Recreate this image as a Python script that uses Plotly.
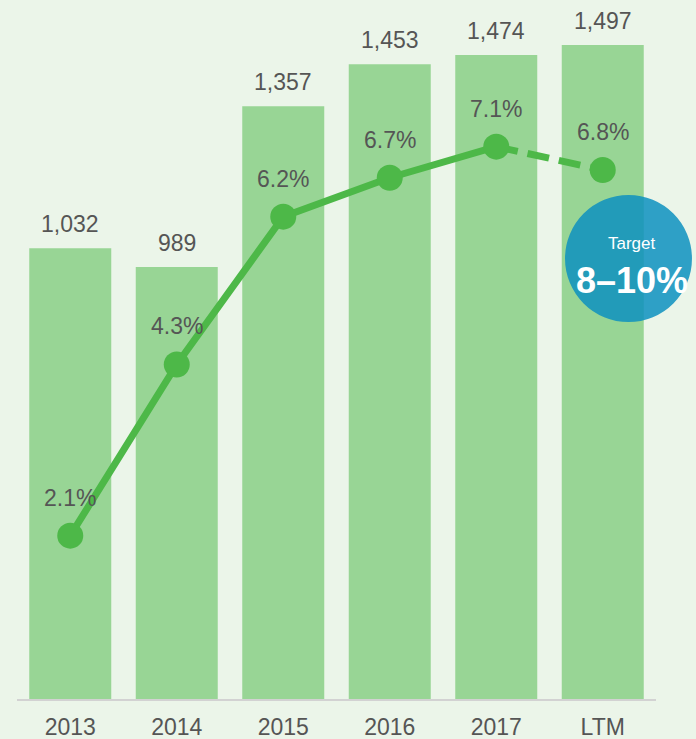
import plotly.graph_objects as go

# Revenue (bars) and margin (line) by period
categories = ["2013", "2014", "2015", "2016", "2017", "LTM"]
revenue = [1032, 989, 1357, 1453, 1474, 1497]
revenue_labels = ["1,032", "989", "1,357", "1,453", "1,474", "1,497"]
margin_pct = [2.1, 4.3, 6.2, 6.7, 7.1, 6.8]
margin_labels = ["2.1%", "4.3%", "6.2%", "6.7%", "7.1%", "6.8%"]
target_title = "Target"
target_value = "8–10%"

FONT = "Liberation Sans, Arial, sans-serif"
BG = "#EBF5E9"
BAR = "#98D595"
LINE = "#4DB848"
TEXT = "#555555"

# Solid segment through the fiscal years, dashed segment into LTM
solid = margin_pct[:-1] + [None]
dashed = [None] * (len(margin_pct) - 2) + margin_pct[-2:]

fig = go.Figure()
fig.add_trace(go.Bar(x=categories, y=revenue, marker=dict(color=BAR, line=dict(width=0)),
                     hoverinfo="skip", yaxis="y"))
fig.add_trace(go.Scatter(x=categories, y=dashed, mode="lines", yaxis="y2",
                         line=dict(color=LINE, width=7, dash="22px,10px"), hoverinfo="skip"))
fig.add_trace(go.Scatter(x=categories, y=solid, mode="lines", yaxis="y2",
                         line=dict(color=LINE, width=7), hoverinfo="skip"))
fig.add_trace(go.Scatter(x=categories, y=margin_pct, mode="markers", yaxis="y2",
                         marker=dict(color=LINE, size=26), hoverinfo="skip"))

annotations = []
# category positions are given by index so numeric-looking names are not read as numbers
for i, (v, t) in enumerate(zip(revenue, revenue_labels)):
    annotations.append(dict(x=i, y=v, xref="x", yref="y", text=t, showarrow=False,
                            yanchor="bottom", yshift=9, font=dict(family=FONT, size=23, color=TEXT)))
for i, (v, t) in enumerate(zip(margin_pct, margin_labels)):
    annotations.append(dict(x=i, y=v, xref="x", yref="y2", text=t, showarrow=False,
                            yanchor="bottom", yshift=23, font=dict(family=FONT, size=23, color=TEXT)))

# Target badge
annotations.append(dict(x=0.9624, y=0.651, xref="paper", yref="paper", text=target_title,
                        showarrow=False, xanchor="center", yanchor="middle",
                        font=dict(family=FONT, size=17, color="white")))
annotations.append(dict(x=0.9624, y=0.598, xref="paper", yref="paper", text="<b>" + target_value + "</b>",
                        showarrow=False, xanchor="center", yanchor="middle",
                        font=dict(family=FONT, size=36, color="white")))

fig.update_layout(
    width=696, height=739,
    margin=dict(l=17, r=40, t=0, b=40),
    paper_bgcolor=BG, plot_bgcolor=BG,
    showlegend=False,
    bargap=0.23,
    xaxis=dict(type="category", range=[-0.5, 5.5], showgrid=False, zeroline=False,
               showline=True, linecolor="#D2D2D2", linewidth=1.5, ticks="",
               ticklabelstandoff=7, automargin=False,
               tickfont=dict(family=FONT, size=23, color=TEXT), fixedrange=True),
    yaxis=dict(range=[0, 1600], visible=False, fixedrange=True),
    yaxis2=dict(range=[0, 8.985], overlaying="y", visible=False, fixedrange=True),
    shapes=[dict(type="circle", xref="paper", yref="paper",
                 x0=0.8576, x1=1.0563, y0=0.5393, y1=0.721,
                 fillcolor="rgba(13,145,192,0.85)", line=dict(width=0), layer="above")],
    annotations=annotations,
    font=dict(family=FONT),
)

fig.write_html("out.html")
